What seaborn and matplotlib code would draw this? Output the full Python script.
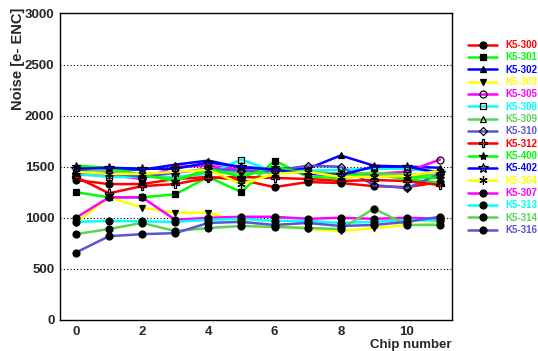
import matplotlib
matplotlib.use("Agg")
import matplotlib.pyplot as plt
import seaborn as sns
import numpy as np
from matplotlib.lines import Line2D
from matplotlib.ticker import MultipleLocator

sns.set_style("white")
plt.rcParams['font.family'] = ['Liberation Sans', 'DejaVu Sans']

chips = list(range(12))

k5_300 = [1370, 1330, 1330, 1380, 1400, 1370, 1300, 1350, 1340, 1310, 1300, 1350]
k5_301 = [1250, 1200, 1200, 1230, 1400, 1250, 1560, 1400, 1390, 1420, 1380, 1340]
k5_302 = [1460, 1480, 1470, 1520, 1560, 1490, 1480, 1480, 1610, 1510, 1500, 1490]
k5_303 = [950, 1200, 1100, 1050, 1050, 960, 930, 890, 870, 900, 930, 940]
k5_305 = [1420, 1420, 1380, 1500, 1510, 1470, 1440, 1450, 1430, 1430, 1450, 1570]
k5_308 = [1430, 1400, 1400, 1400, 1430, 1570, 1450, 1460, 1470, 1480, 1480, 1450]
k5_309 = [1480, 1460, 1420, 1380, 1450, 1440, 1440, 1450, 1430, 1440, 1420, 1420]
k5_310 = [1440, 1440, 1400, 1440, 1480, 1460, 1460, 1510, 1500, 1320, 1290, 1430]
k5_312 = [1400, 1240, 1310, 1330, 1390, 1400, 1390, 1380, 1360, 1370, 1360, 1320]
k5_400 = [1510, 1490, 1420, 1360, 1480, 1400, 1500, 1430, 1420, 1410, 1400, 1390]
k5_402 = [1480, 1490, 1480, 1480, 1540, 1500, 1470, 1430, 1420, 1500, 1500, 1440]
k5_304 = [1450, 1430, 1430, 1450, 1470, 1330, 1430, 1450, 1400, 1400, 1410, 1460]
k5_307 = [1000, 1200, 1200, 980, 1000, 1010, 1010, 990, 1000, 990, 1000, 990]
k5_313 = [960, 970, 965, 960, 980, 990, 970, 970, 950, 960, 980, 970]
k5_314 = [840, 890, 950, 870, 900, 920, 910, 900, 890, 1090, 930, 930]
k5_316 = [660, 820, 840, 850, 950, 960, 930, 950, 920, 930, 960, 1010]

labels = ["K5-300", "K5-301", "K5-302", "K5-303", "K5-305", "K5-308", "K5-309",
          "K5-310", "K5-312", "K5-400", "K5-402", "K5-304", "K5-307", "K5-313",
          "K5-314", "K5-316"]
series = [k5_300, k5_301, k5_302, k5_303, k5_305, k5_308, k5_309, k5_310,
          k5_312, k5_400, k5_402, k5_304, k5_307, k5_313, k5_314, k5_316]

LG = "#59d454"
LB = "#5954d8"
colors = ["#ff0000", "#00ff00", "#0000ff", "#ffff00", "#ff00ff", "#00ffff", LG,
          LB, "#ff0000", "#00ff00", "#0000ff", "#ffff00", "#ff00ff", "#00ffff", LG, LB]
markers = ["o", "s", "^", "v", "o", "s", "^", "D", "P", "*", "*", (6, 2, 0),
           "o", "o", "o", "o"]
filled = [True, True, True, True, False, False, False, False, False, True, False,
          True, True, True, True, True]
msizes = [5, 5, 5, 5, 5, 5, 5, 4, 6, 6, 7, 6, 5, 5, 5, 5]

fig = plt.figure(figsize=(5.38, 3.51), dpi=100)
ax = fig.add_axes([60/538, 1-320/351, (452-60)/538, (320-13.4)/351])

handles = []
for lab, vals, c, m, f, ms in zip(labels, series, colors, markers, filled, msizes):
    fc = "black" if f else "none"
    sns.lineplot(x=chips, y=vals, ax=ax, color=c, lw=1.8, marker=m, markersize=ms,
                 markerfacecolor=fc, markeredgecolor="black", markeredgewidth=0.9)
    handles.append(Line2D([0], [0], color=c, lw=1.8, marker=m, markersize=ms,
                          markerfacecolor=fc, markeredgecolor="black",
                          markeredgewidth=0.9))

ax.set_xlim(-0.48, 11.36)
ax.set_ylim(0, 3000)
ax.yaxis.set_major_locator(MultipleLocator(500))
ax.yaxis.set_minor_locator(MultipleLocator(250))
ax.xaxis.set_major_locator(MultipleLocator(2))
ax.xaxis.set_minor_locator(MultipleLocator(1))
ax.tick_params(axis='both', which='major', direction='in', length=7, width=1,
               labelsize=9.5, pad=4)
ax.tick_params(axis='both', which='minor', direction='in', length=4, width=1)
for lbl in ax.get_xticklabels() + ax.get_yticklabels():
    lbl.set_fontweight('bold')
for y in range(500, 3000, 500):
    ax.axhline(y, color="black", lw=0.8, ls=(0, (1, 2)), zorder=0)
for sp in ax.spines.values():
    sp.set_color("black")
    sp.set_linewidth(1.0)

ax.set_ylabel("Noise [e- ENC]", fontsize=10.5, fontweight='bold', loc='top')
ax.yaxis.set_label_coords(-0.09, 1.02)
ax.set_xlabel("Chip number", fontsize=9.5, fontweight='bold', loc='right', labelpad=1)

leg = fig.legend(handles, labels, loc='upper left',
                 bbox_to_anchor=(468/538, 1-40/351), frameon=False,
                 fontsize=7, handlelength=3.0, labelspacing=0.24,
                 handletextpad=0.8, borderpad=0, borderaxespad=0)
for txt, c in zip(leg.get_texts(), colors):
    txt.set_color(c)
    txt.set_fontweight('bold')

fig.savefig("out.png", dpi=100)
